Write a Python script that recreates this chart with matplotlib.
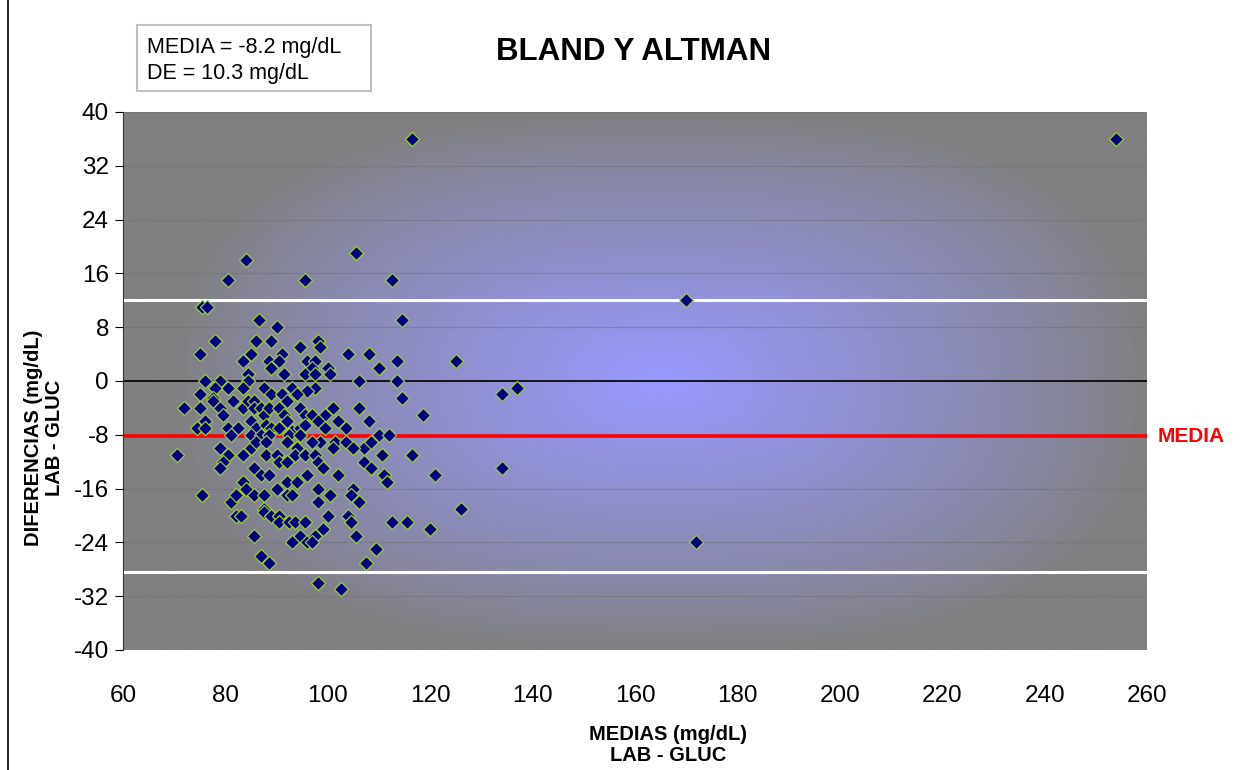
#!/usr/bin/env python3
"""Bland-Altman plot LAB vs GLUC."""

import matplotlib

matplotlib.use("Agg")

import matplotlib.pyplot as plt
import numpy as np
from matplotlib.lines import Line2D

MEDIA = -8.2
DE = 10.3

MEDIAS = [
    116.5, 254, 105.5, 84, 80.5, 95.5, 112.5, 170,
    75.5, 76.5, 86.5, 114.5, 90,
    78, 86, 89, 98, 98.5, 94.5,
    75, 85, 91, 104, 108,
    83.5, 88.5, 90.5, 96, 97.5, 113.5, 125,
    89, 97, 100, 110,
    91.5, 84.5, 95.5, 97.5, 100.5,
    76, 79, 84.5, 106, 113.5,
    80.5, 78, 83.5, 87.5, 93, 97.5, 96, 137,
    89, 91, 94, 75, 77.5, 134, 114.5,
    72, 75, 77.5, 79, 79.5, 81.5, 83.5, 84.5, 85.5, 85.5, 87, 87.5, 88.5, 90.5, 91.5, 92, 94.5, 95.5,
    101, 106, 118.5, 99.5, 97,
    74.5, 76, 76, 80.5, 82.5, 85, 86, 88, 89, 90.5, 92, 93, 94.5, 95.5,
    98, 102, 108, 103.5, 99.5,
    81, 85, 87, 88.5, 92.5, 94.5, 110, 112,
    70.5, 79, 80.5, 79.5, 79, 83.5, 85, 86, 88, 88, 90, 90.5, 92, 92, 94, 93.5, 95.5,
    98.5, 101.5, 103.5, 107, 108.5, 105, 101, 97, 97.5, 110.5, 116.5, 107, 98, 99, 108.5, 102, 111, 111.5, 121, 134,
    85.5, 87, 88.5, 90, 92, 94, 96, 83.5, 84,
    98, 105, 100.5, 104.5, 106, 98,
    75.5, 81, 82, 85.5, 87.5, 87.5, 92, 93,
    126, 120, 115.5, 112.5,
    82, 83, 87.5, 89, 90.5, 90.5, 92.5, 93.5, 95.5, 94.5, 93, 96,
    100, 104, 104.5, 99, 97.5, 97, 105.5, 109.5, 107.5,
    85.5, 87, 88.5, 98, 102.5, 172,
]

DIFERENCIAS = [
    36, 36, 19, 18, 15, 15, 15, 12,
    11, 11, 9, 9, 8,
    6, 6, 6, 6, 5, 5,
    4, 4, 4, 4, 4,
    3, 3, 3, 3, 3, 3, 3,
    2, 2, 2, 2,
    1, 1, 1, 1, 1,
    0, 0, 0, 0, 0,
    -1, -1, -1, -1, -1, -1, -1.5, -1,
    -2, -2, -2, -2, -2.5, -2, -2.5,
    -4, -4, -3, -4, -5, -3, -4, -3, -3, -4, -4, -5, -4, -4, -5, -3, -4, -5,
    -4, -4, -5, -5, -5,
    -7, -6, -7, -7, -7, -6, -7, -6.5, -7, -7, -6, -7.5, -7, -6.5,
    -6, -6, -6, -7, -7,
    -8, -8, -8, -8, -8, -8, -8, -8,
    -11, -10, -11, -12, -13, -11, -10, -9, -9, -11, -11, -12, -9, -12, -10, -11, -11,
    -9, -9, -9, -10, -9, -10, -10, -9, -11, -11, -11, -12, -12, -13, -13, -14, -14, -15, -14, -13,
    -13, -14, -14, -16, -15, -15, -14, -15, -16,
    -16, -16, -17, -17, -18, -18,
    -17, -18, -17, -17, -17, -19, -17, -17,
    -19, -22, -21, -21,
    -20, -20, -19.5, -20, -20, -21, -21, -21, -21, -23, -24, -24,
    -20, -20, -21, -22, -23, -24, -23, -25, -27,
    -23, -26, -27, -30, -31, -24,
]

X_TICKS = list(range(60, 261, 20))
Y_TICKS = list(range(-40, 41, 8))


def gradient_background(ax):
    u = np.linspace(-1, 1, 500)
    v = np.linspace(-1, 1, 300)
    uu, vv = np.meshgrid(u, v)
    p = 2.6
    r = (np.abs((uu - 0.05) / 0.95) ** p + np.abs(vv / 1.0) ** p) ** (1 / p)
    t = np.clip(1 - r, 0, 1) ** 0.85
    edge = np.array([128, 128, 128]) / 255
    center = np.array([153, 153, 255]) / 255
    img = edge + t[..., None] * (center - edge)
    ax.imshow(img, extent=[0, 1, 0, 1], transform=ax.transAxes,
              aspect="auto", zorder=0, interpolation="bilinear")


def main():
    plt.rcParams["font.family"] = ["Liberation Sans", "DejaVu Sans"]
    plt.rcParams["axes.unicode_minus"] = False
    fig = plt.figure(figsize=(12.53, 7.70), dpi=100)
    ax = fig.add_axes([123 / 1253, 1 - 650 / 770, 1024 / 1253, 538 / 770])

    gradient_background(ax)
    for yv in Y_TICKS:
        ax.axhline(yv, color="#6e6e6e", lw=0.9, alpha=0.45, zorder=1)

    upper = MEDIA + 1.96 * DE
    lower = MEDIA - 1.96 * DE
    ax.axhline(0, color="black", lw=1.2, zorder=2)
    ax.axhline(upper, color="white", lw=2.2, zorder=2)
    ax.axhline(lower, color="white", lw=2.2, zorder=2)
    ax.axhline(MEDIA, color="#ff0000", lw=2.6, zorder=2)

    ax.scatter(MEDIAS, DIFERENCIAS, marker="D", s=52, facecolor="#000080",
               edgecolor="#9acd32", linewidths=0.9, zorder=3)

    ax.set_xlim(60, 260)
    ax.set_ylim(-40, 40)
    ax.set_xticks(X_TICKS)
    ax.set_yticks(Y_TICKS)
    ax.tick_params(axis="y", labelsize=17.5, length=6, direction="out", pad=4)
    ax.tick_params(axis="x", labelsize=17.5, length=0, pad=25)
    for side in ("top", "right", "bottom"):
        ax.spines[side].set_visible(False)
    ax.spines["left"].set_color("#333333")

    ax.text(1.01, MEDIA, "MEDIA", color="#ff0000", fontsize=15, weight="bold",
            transform=ax.get_yaxis_transform(), va="center", ha="left")

    fig.text(634 / 1253, 1 - 52 / 770, "BLAND Y ALTMAN", fontsize=22.5,
             weight="bold", ha="center", va="center")
    fig.text(668 / 1253, 1 - 745 / 770, "MEDIAS (mg/dL)\nLAB - GLUC", fontsize=14.5,
             weight="bold", ha="center", va="center", multialignment="center",
             linespacing=1.1)
    fig.text(44 / 1253, 1 - 438 / 770, "DIFERENCIAS (mg/dL)\nLAB - GLUC", fontsize=14.5,
             weight="bold", ha="center", va="center", multialignment="center",
             rotation=90, linespacing=1.1)

    box = plt.Rectangle((137 / 1253, 1 - 91 / 770), 234 / 1253, 66 / 770,
                        transform=fig.transFigure, facecolor="white",
                        edgecolor="#c0c0c0", lw=1.5)
    fig.add_artist(box)
    fig.text(147 / 1253, 1 - 47 / 770, f"MEDIA = {MEDIA} mg/dL", fontsize=15.5,
             ha="left", va="center")
    fig.text(147 / 1253, 1 - 73 / 770, f"DE = {DE} mg/dL", fontsize=15.5,
             ha="left", va="center")

    fig.add_artist(Line2D([8 / 1253, 8 / 1253], [0, 1], color="black", lw=1.2))

    fig.savefig("out.png", dpi=100)
    plt.close(fig)


if __name__ == "__main__":
    main()
